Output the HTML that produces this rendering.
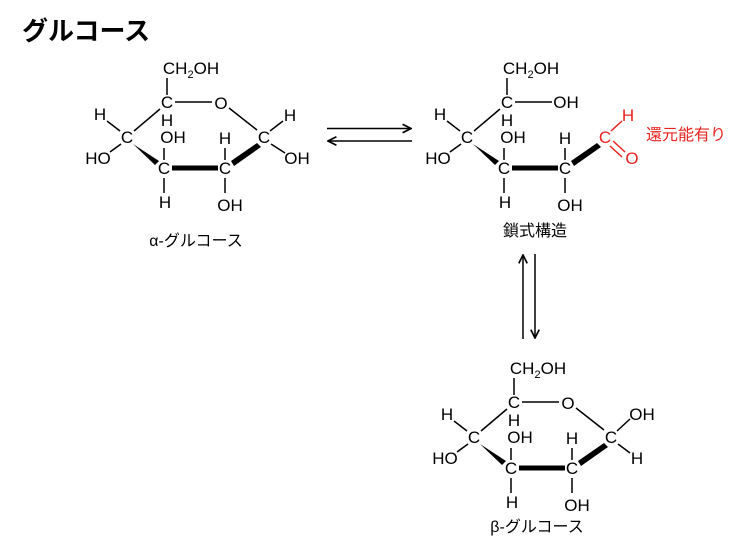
<!DOCTYPE html>
<html><head><meta charset="utf-8"><style>
html,body{margin:0;padding:0;background:#fff;width:750px;height:554px;overflow:hidden}
svg text{font-family:"Liberation Sans","Noto Sans CJK JP",sans-serif;fill:#000}
</style></head><body>
<svg width="750" height="554" viewBox="0 0 750 554" xmlns="http://www.w3.org/2000/svg">
<defs>
<marker id="ah" viewBox="0 0 10 10" refX="9" refY="5" markerWidth="7" markerHeight="7" orient="auto"><path d="M1,1 L9,5 L1,9" fill="none" stroke="#000" stroke-width="1.6"/></marker>
</defs>
<text x="22" y="40" font-size="26" font-weight="bold">グルコース</text>

<!-- alpha ring -->
<g id="ring" font-size="17" text-anchor="middle">
<text x="191" y="74">CH<tspan font-size="11" dy="4">2</tspan><tspan dy="-4">OH</tspan></text>
<line x1="167" y1="78" x2="167" y2="95" stroke="#000" stroke-width="1.5"/>
<text x="167" y="108">C</text>
<text x="167" y="126">H</text>
<line x1="175" y1="102" x2="212" y2="102" stroke="#000" stroke-width="1.5"/>
<text x="221" y="109">O</text>
<line x1="229" y1="108" x2="257" y2="130" stroke="#000" stroke-width="1.5"/>
<line x1="160" y1="109" x2="134" y2="131" stroke="#000" stroke-width="1.5"/>
<text x="264" y="143">C</text>
<text x="127" y="143">C</text>
<text x="100" y="120">H</text>
<line x1="107" y1="121" x2="120" y2="131" stroke="#000" stroke-width="1.5"/>
<text x="98" y="164">HO</text>
<line x1="110" y1="152" x2="121" y2="144" stroke="#000" stroke-width="1.5"/>
<polygon points="133,144 159,161 155,165" fill="#000"/>
<text x="164" y="174">C</text>
<text x="173" y="143">OH</text>
<line x1="164" y1="148" x2="164" y2="160" stroke="#000" stroke-width="1.5"/>
<line x1="164" y1="178" x2="164" y2="193" stroke="#000" stroke-width="1.5"/>
<text x="165" y="208">H</text>
<line x1="172" y1="168" x2="218" y2="168" stroke="#000" stroke-width="5"/>
<text x="225" y="174">C</text>
<text x="225" y="144">H</text>
<line x1="225" y1="148" x2="225" y2="160" stroke="#000" stroke-width="1.5"/>
<line x1="225" y1="178" x2="225" y2="193" stroke="#000" stroke-width="1.5"/>
<text x="230" y="211">OH</text>
<polygon points="231,161 257,143 261,147 234,166" fill="#000"/>
</g>
<g font-size="17" text-anchor="middle">
<text x="290" y="121">H</text>
<line x1="283" y1="121" x2="270" y2="131" stroke="#000" stroke-width="1.5"/>
<text x="297" y="164">OH</text>
<line x1="285" y1="153" x2="271" y2="144" stroke="#000" stroke-width="1.5"/>
<text x="196" y="246" font-size="16">α-グルコース</text>
</g>

<!-- chain -->
<g font-size="17" text-anchor="middle">
<text x="531" y="74">CH<tspan font-size="11" dy="4">2</tspan><tspan dy="-4">OH</tspan></text>
<line x1="507" y1="78" x2="507" y2="95" stroke="#000" stroke-width="1.5"/>
<text x="507" y="108">C</text>
<text x="507" y="126">H</text>
<line x1="515" y1="102" x2="552" y2="102" stroke="#000" stroke-width="1.5"/>
<text x="566" y="108">OH</text>
<line x1="500" y1="109" x2="474" y2="131" stroke="#000" stroke-width="1.5"/>
<text x="467" y="143">C</text>
<text x="440" y="120">H</text>
<line x1="447" y1="121" x2="460" y2="131" stroke="#000" stroke-width="1.5"/>
<text x="438" y="164">HO</text>
<line x1="450" y1="152" x2="461" y2="144" stroke="#000" stroke-width="1.5"/>
<polygon points="473,144 499,161 495,165" fill="#000"/>
<text x="504" y="174">C</text>
<text x="513" y="143">OH</text>
<line x1="504" y1="148" x2="504" y2="160" stroke="#000" stroke-width="1.5"/>
<line x1="504" y1="178" x2="504" y2="193" stroke="#000" stroke-width="1.5"/>
<text x="505" y="208">H</text>
<line x1="512" y1="168" x2="558" y2="168" stroke="#000" stroke-width="5"/>
<text x="565" y="174">C</text>
<text x="565" y="144">H</text>
<line x1="565" y1="148" x2="565" y2="160" stroke="#000" stroke-width="1.5"/>
<line x1="565" y1="178" x2="565" y2="193" stroke="#000" stroke-width="1.5"/>
<text x="570" y="211">OH</text>
<polygon points="571,161 597,143 601,147 574,166" fill="#000"/>
<text x="605" y="143" style="fill:#e8231f">C</text>
<text x="628" y="121" style="fill:#e8231f">H</text>
<line x1="622" y1="121" x2="611" y2="131" stroke="#e8231f" stroke-width="1.5"/>
<text x="632" y="164" style="fill:#e8231f">O</text>
<line x1="613" y1="141" x2="625" y2="152" stroke="#e8231f" stroke-width="1.5"/>
<line x1="610" y1="146" x2="622" y2="157" stroke="#e8231f" stroke-width="1.5"/>
<text x="686" y="140" font-size="16" style="fill:#e8231f">還元能有り</text>
<text x="535" y="236" font-size="16">鎖式構造</text>
</g>

<!-- arrows -->
<line x1="327" y1="128.5" x2="411" y2="128.5" stroke="#000" stroke-width="1.5" marker-end="url(#ah)"/>
<line x1="412" y1="141" x2="328" y2="141" stroke="#000" stroke-width="1.5" marker-end="url(#ah)"/>
<line x1="523" y1="339" x2="523" y2="255" stroke="#000" stroke-width="1.5" marker-end="url(#ah)"/>
<line x1="535" y1="254" x2="535" y2="338" stroke="#000" stroke-width="1.5" marker-end="url(#ah)"/>

<!-- beta ring -->
<use href="#ring" transform="translate(347,300)"/>
<g font-size="17" text-anchor="middle">
<text x="642" y="420">OH</text>
<line x1="630" y1="419" x2="617" y2="431" stroke="#000" stroke-width="1.5"/>
<text x="637" y="464">H</text>
<line x1="630" y1="453" x2="618" y2="444" stroke="#000" stroke-width="1.5"/>
<text x="537" y="532" font-size="16">β-グルコース</text>
</g>
</svg>
</body></html>
